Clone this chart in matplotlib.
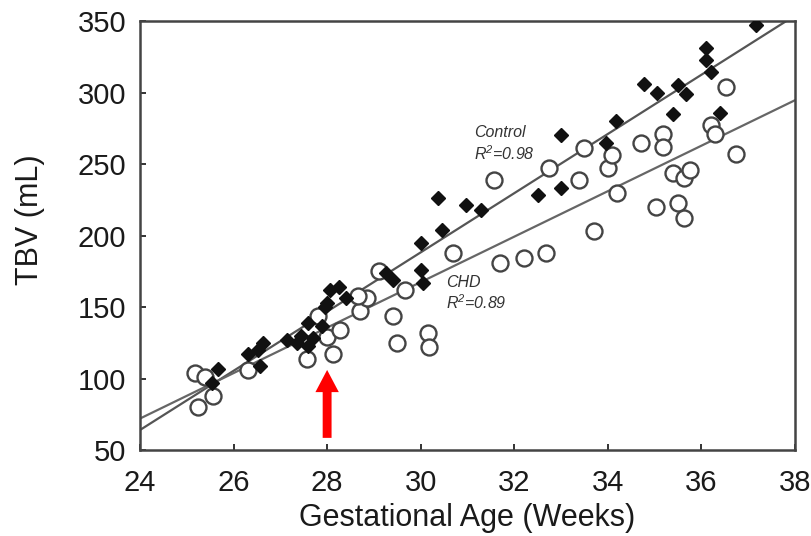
import numpy as np
import matplotlib.pyplot as plt
from matplotlib.patches import FancyArrow

plt.rcParams['font.family'] = ['Liberation Sans', 'DejaVu Sans']
plt.rcParams['mathtext.default'] = 'regular'

# control fetuses (filled diamonds)
ctrl_age = [37.17, 36.1, 36.1, 36.2, 34.77, 35.05, 35.5, 35.67, 35.4, 36.4,
            34.17, 33.96, 32.99, 32.5, 33.0, 30.38, 30.96, 31.28, 30.46, 30.0,
            30.0, 30.04, 29.25, 29.4, 28.07, 28.25, 28.4, 28.0, 27.95, 27.9,
            27.6, 27.15, 27.36, 27.6, 27.45, 27.7, 26.63, 26.53, 26.3, 26.57,
            25.67, 25.54]
ctrl_tbv = [347, 331, 323, 314, 306, 300, 305, 299, 285, 286,
            280, 265, 270, 228, 233, 226, 221, 218, 204, 195,
            176, 167, 174, 169, 162, 164, 156, 153, 150, 137,
            139, 127, 125, 123, 130, 128, 125, 120, 117, 109,
            107, 97]

# CHD fetuses (open circles)
chd_age = [25.18, 25.4, 25.56, 25.24, 26.3, 27.57, 27.8, 28.0, 28.13, 28.28,
           28.7, 28.86, 28.65, 29.1, 29.4, 29.5, 29.67, 30.15, 30.17, 30.7,
           31.56, 31.7, 32.2, 32.67, 32.74, 33.38, 33.49, 33.7, 34.0, 34.1,
           34.2, 34.7, 35.17, 35.17, 35.03, 35.4, 35.5, 35.63, 35.63, 35.75,
           36.2, 36.3, 36.53, 36.75]
chd_tbv = [104, 101, 88, 80, 106, 114, 144, 129, 117, 134,
           147, 156, 158, 175, 144, 125, 162, 132, 122, 188,
           239, 181, 184, 188, 247, 239, 261, 203, 247, 256,
           230, 265, 271, 262, 220, 244, 223, 240, 212, 246,
           277, 271, 304, 257]

# regression lines: tbv = a + b*(age - 24)
fit_ctrl = [64.0, 20.7]
fit_chd = [72.0, 15.9]

xticks = [24, 26, 28, 30, 32, 34, 36, 38]
yticks = [50, 100, 150, 200, 250, 300, 350]

fig = plt.figure(figsize=(8.12, 5.36), dpi=100)
ax = fig.add_axes([0.1724, 0.1604, 0.8066, 0.8004])

xx = np.array([24, 38])
ax.plot(xx, fit_ctrl[0] + fit_ctrl[1]*(xx - 24), color='#555555', lw=1.6, zorder=2)
ax.plot(xx, fit_chd[0] + fit_chd[1]*(xx - 24), color='#666666', lw=1.6, zorder=2)

ax.plot(chd_age, chd_tbv, 'o', ms=11.5, mfc='white', mec='#444444', mew=1.7, ls='none', zorder=3)
ax.plot(ctrl_age, ctrl_tbv, 'D', ms=7.4, mfc='#111111', mec='#111111', ls='none', zorder=4)

lab = dict(fontsize=11.5, style='italic', color='#333333', va='center')
ax.text(31.15, 272, 'Control', **lab)
ax.text(31.15, 257, 'R$^2$=0.98', **lab)
ax.text(30.55, 167, 'CHD', **lab)
ax.text(30.55, 153, 'R$^2$=0.89', **lab)

# red arrow marking 28 weeks
ax.add_patch(FancyArrow(28, 58.5, 0, 47.5, width=0.19, head_width=0.5, head_length=15.5,
                        length_includes_head=True, color='#ff0000', lw=0, zorder=5))

ax.set_xlim(24, 38)
ax.set_ylim(50, 350)
ax.set_xticks(xticks)
ax.set_yticks(yticks)
ax.tick_params(direction='in', length=4, width=1.4, color='#333333',
               labelsize=21, labelcolor='#1a1a1a')
ax.tick_params(axis='y', pad=10)
ax.tick_params(axis='x', pad=14)
for s in ax.spines.values():
    s.set_linewidth(1.8)
    s.set_color('#444444')

ax.set_xlabel('Gestational Age (Weeks)', fontsize=22, color='#1a1a1a')
ax.set_ylabel('TBV (mL)', fontsize=22, color='#1a1a1a')
ax.xaxis.set_label_coords(0.5, -0.158)
ax.yaxis.set_label_coords(-0.168, 0.538)
ax.xaxis.label.set_va('center')
ax.yaxis.label.set_va('center')

fig.savefig('out.png', dpi=100)
